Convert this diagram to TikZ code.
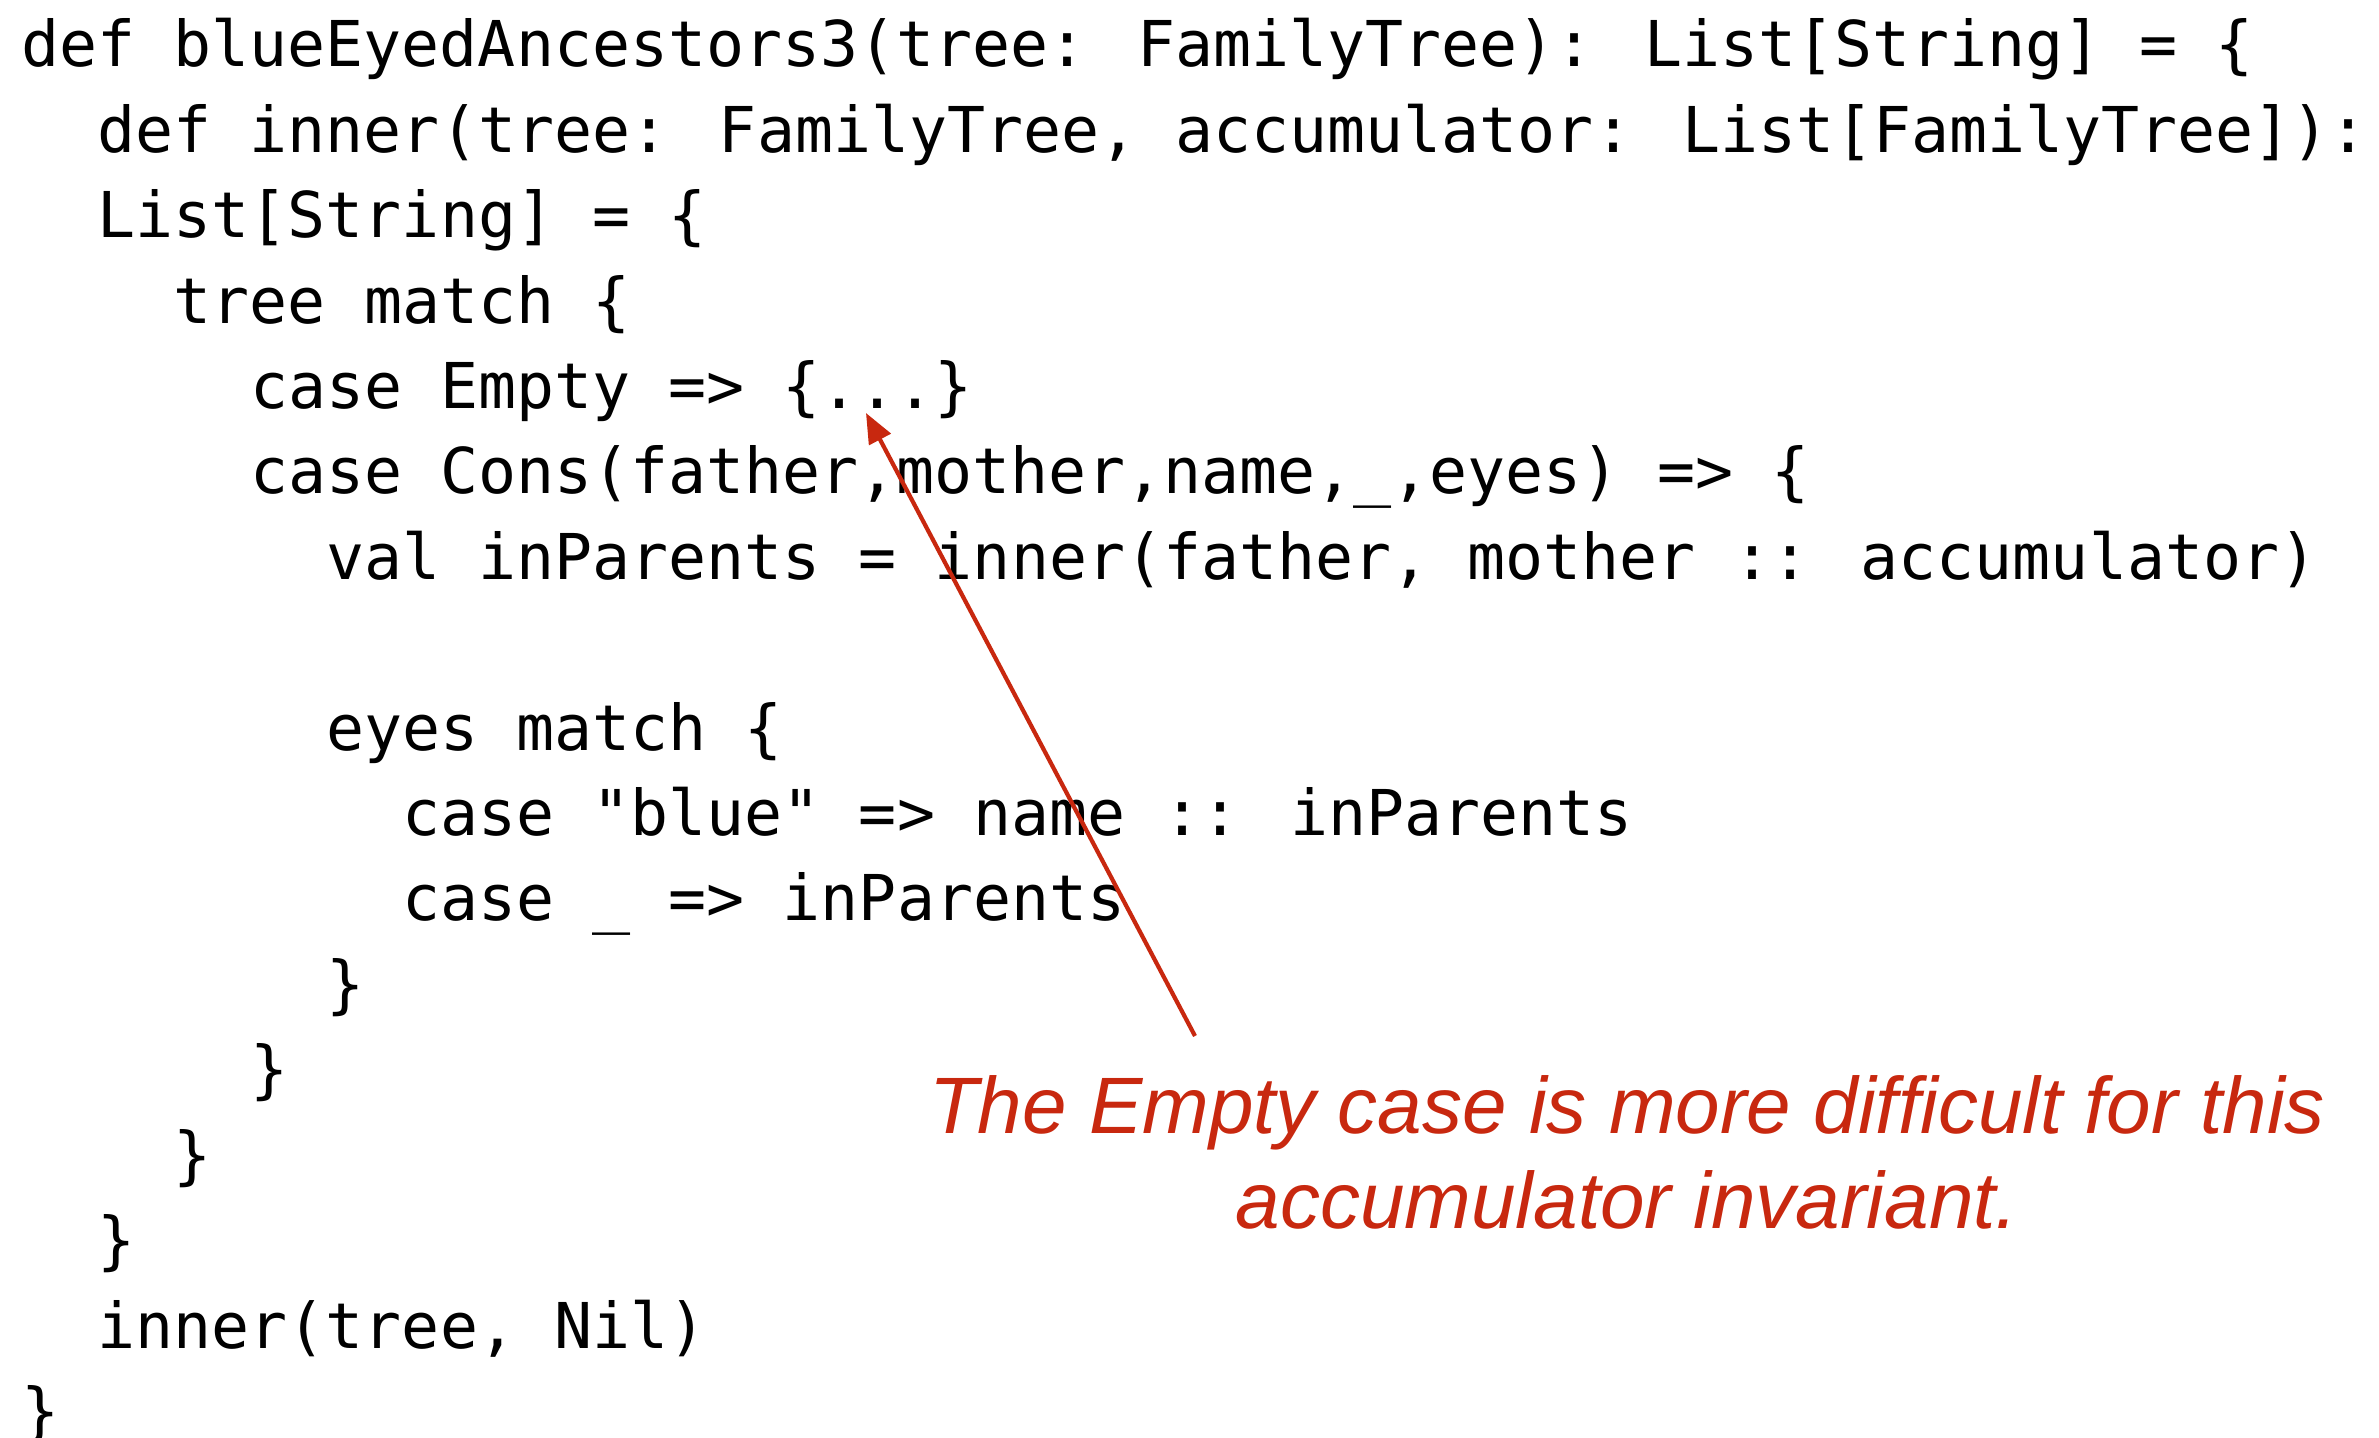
\documentclass[tikz,border=0pt]{standalone}
\usepackage{fontspec}
\setmainfont{Liberation Sans}
\newfontfamily\codefont{DejaVu Sans Mono}
\newfontfamily\notefont{Liberation Sans}
\usetikzlibrary{arrows.meta}
\definecolor{notered}{RGB}{200,40,15}
\begin{document}
\begin{tikzpicture}[x=0.5pt,y=-0.5pt,
  codeline/.style={anchor=base west,inner sep=0pt,font=\codefont\fontsize{31.6pt}{42.7pt}\selectfont},
  notetext/.style={anchor=base,inner sep=0pt,text=notered,font=\notefont\itshape\fontsize{40pt}{47.5pt}\selectfont},
  pointer/.style={draw=notered,line width=2.1pt,-{Triangle[length=15pt,width=12pt]}}]
\path[use as bounding box,fill=white] (0,0) rectangle (2379,1438);
\def\cw{38.1}
\node[codeline] (l1) at (21+0*\cw,67) {def blueEyedAncestors3(tree: FamilyTree): List[String] = \{};
\node[codeline] (l2) at (21+2*\cw,152.4) {def inner(tree: FamilyTree, accumulator: List[FamilyTree]):};
\node[codeline] (l3) at (21+2*\cw,237.8) {List[String] = \{};
\node[codeline] (l4) at (21+4*\cw,323.2) {tree match \{};
\node[codeline] (l5) at (21+6*\cw,408.6) {case Empty => \{...\}};
\node[codeline] (l6) at (21+6*\cw,494) {case Cons(father,mother,name,\_,eyes) => \{};
\node[codeline] (l7) at (21+8*\cw,579.4) {val inParents = inner(father, mother :: accumulator)};
\node[codeline] (l9) at (21+8*\cw,750.2) {eyes match \{};
\node[codeline] (l10) at (21+10*\cw,835.6) {case "blue" => name :: inParents};
\node[codeline] (l11) at (21+10*\cw,921) {case \_ => inParents};
\node[codeline] (l12) at (21+8*\cw,1006.4) {\}};
\node[codeline] (l13) at (21+6*\cw,1091.8) {\}};
\node[codeline] (l14) at (21+4*\cw,1177.2) {\}};
\node[codeline] (l15) at (21+2*\cw,1262.6) {\}};
\node[codeline] (l16) at (21+2*\cw,1348) {inner(tree, Nil)};
\node[codeline] (l17) at (21+0*\cw,1433.4) {\}};
\node[notetext] (note1) at (1627,1133) {The Empty case is more difficult for this};
\node[notetext] (note2) at (1627,1228) {accumulator invariant.};
\coordinate (from) at (1195,1036);
\coordinate (tip) at (866,413);
\draw[pointer] (from) -- (tip);
\end{tikzpicture}
\end{document}
